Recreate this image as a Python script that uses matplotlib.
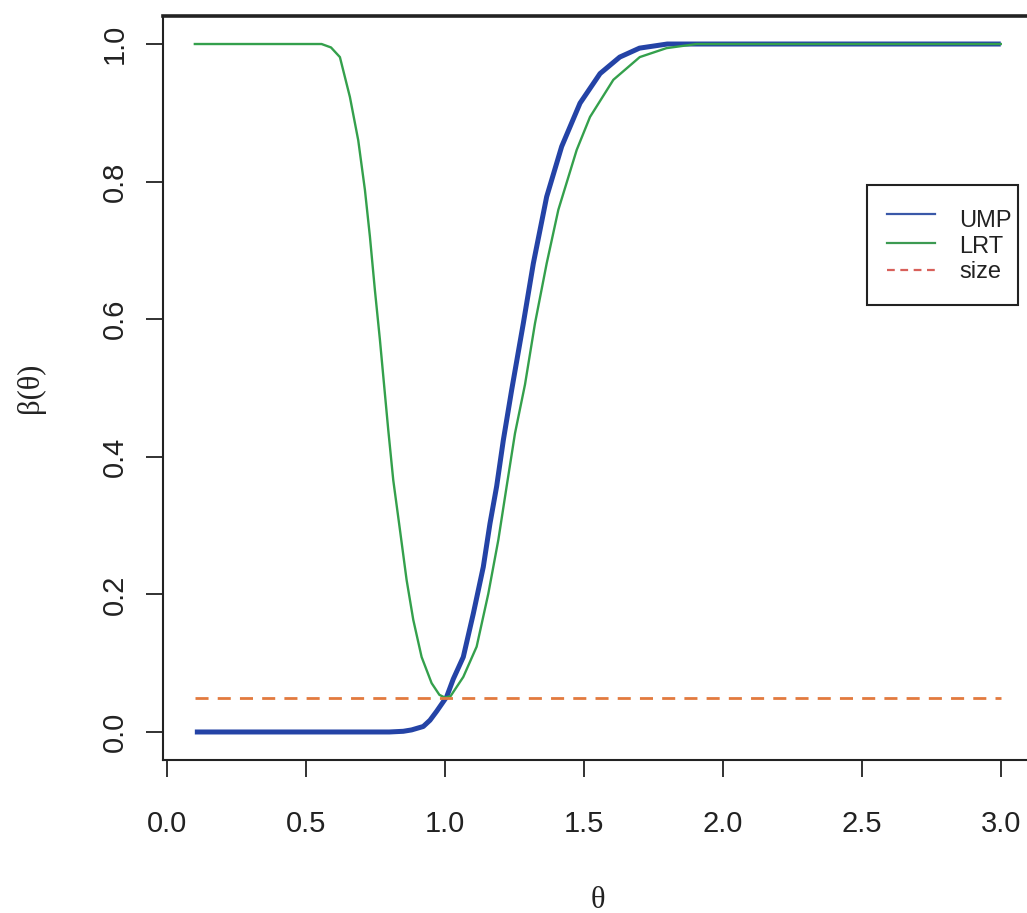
import matplotlib
matplotlib.use("Agg")
import matplotlib.pyplot as plt
from matplotlib.lines import Line2D
from matplotlib.patches import Rectangle

# ---- data ----
ump_theta = [0.10, 0.30, 0.50, 0.70, 0.80, 0.85, 0.88, 0.922, 0.946, 0.97, 1.006,
             1.03, 1.066, 1.102, 1.138, 1.162, 1.186, 1.21, 1.24, 1.282, 1.318,
             1.366, 1.42, 1.486, 1.558, 1.629, 1.70, 1.80, 2.00, 2.50, 3.00]
ump_beta = [0.0, 0.0, 0.0, 0.0, 0.0, 0.001, 0.003, 0.008, 0.017, 0.030, 0.051,
            0.077, 0.109, 0.172, 0.240, 0.303, 0.357, 0.424, 0.497, 0.594, 0.681,
            0.778, 0.851, 0.914, 0.957, 0.981, 0.994, 1.0, 1.0, 1.0, 1.0]

lrt_theta = [0.10, 0.30, 0.50, 0.556, 0.59, 0.622, 0.658, 0.688, 0.712, 0.730,
             0.748, 0.766, 0.782, 0.796, 0.814, 0.838, 0.862, 0.886, 0.916, 0.952,
             0.98, 1.00, 1.02, 1.066, 1.114, 1.156, 1.192, 1.222, 1.252, 1.288,
             1.324, 1.366, 1.408, 1.474, 1.522, 1.606, 1.701, 1.797, 1.905, 2.50, 3.00]
lrt_beta = [1.0, 1.0, 1.0, 1.0, 0.995, 0.981, 0.923, 0.860, 0.788, 0.720,
            0.642, 0.570, 0.500, 0.439, 0.366, 0.294, 0.221, 0.163, 0.109, 0.071,
            0.054, 0.050, 0.052, 0.080, 0.124, 0.201, 0.279, 0.357, 0.434, 0.505,
            0.594, 0.681, 0.759, 0.846, 0.894, 0.948, 0.981, 0.994, 1.0, 1.0, 1.0]

size_theta = [0.10, 3.00]
size_beta = [0.05, 0.05]

legend_labels = ["UMP", "LRT", "size"]
x_ticks = [0.0, 0.5, 1.0, 1.5, 2.0, 2.5, 3.0]
y_ticks = [0.0, 0.2, 0.4, 0.6, 0.8, 1.0]

# ---- styles ----
W, H = 1027, 913
fig = plt.figure(figsize=(W / 100, H / 100), dpi=100)
fig.patch.set_facecolor("white")

left_px, right_px, top_px, bot_px = 162.6, 1033.0, 16.5, 759.5
ax = fig.add_axes([left_px / W, 1 - bot_px / H,
                   (right_px - left_px) / W, (bot_px - top_px) / H])

c_ump = "#2443a6"
c_lrt = "#34a04c"
c_size = "#e27a3e"

ax.plot(ump_theta, ump_beta, color=c_ump, lw=3.6, solid_capstyle="butt",
        solid_joinstyle="round", zorder=3)
ax.plot(lrt_theta, lrt_beta, color=c_lrt, lw=1.7, solid_joinstyle="round", zorder=4)
ax.plot(size_theta, size_beta, color=c_size, lw=2.0, ls=(0, (4.7, 3.3)), zorder=5)

ax.set_xlim(-0.016, 3.116)
ax.set_ylim(-0.04, 1.04)
ax.set_xticks(x_ticks)
ax.set_yticks(y_ticks)
ax.set_xticklabels([f"{v:.1f}" for v in x_ticks])
ax.set_yticklabels([f"{v:.1f}" for v in y_ticks])

sans = ["Liberation Sans", "DejaVu Sans"]
serif = ["Liberation Serif", "DejaVu Serif"]
tick_col = "#222222"
ax.tick_params(axis="both", direction="out", length=12.5, width=1.3,
               colors=tick_col, labelsize=21)
ax.tick_params(axis="x", pad=24)
ax.tick_params(axis="y", pad=12, labelrotation=90)
for lab in ax.get_xticklabels() + ax.get_yticklabels():
    lab.set_fontfamily(sans)
for lab in ax.get_yticklabels():
    lab.set_va("center")

for s in ax.spines.values():
    s.set_color("#222222")
    s.set_linewidth(1.5)
ax.spines["top"].set_linewidth(2.6)

ax.set_xlabel("θ", fontsize=22, family=serif, color=tick_col)
ax.xaxis.set_label_coords(0.5, (bot_px - 886) / (bot_px - top_px))
ax.set_ylabel("β(θ)", fontsize=22, family=serif, color=tick_col, va="center")
ax.yaxis.set_label_coords((30 - left_px) / (right_px - left_px), 0.5)


# ---- legend (drawn in figure pixel coordinates) ----
def fx(x):
    return x / W


def fy(y):
    return 1 - y / H


fig.add_artist(Rectangle((fx(867), fy(305)), fx(1018) - fx(867), fy(185) - fy(305),
                         transform=fig.transFigure, fill=False,
                         edgecolor="#222222", lw=1.5, zorder=10))
leg_cols = ["#3a58a8", "#3c9a52", "#d8605a"]
leg_ls = ["-", "-", (0, (3.5, 2.5))]
leg_line_y = [214, 243, 270]
leg_text_y = [221, 247, 272]
for lab, col, ls, ly, ty in zip(legend_labels, leg_cols, leg_ls, leg_line_y, leg_text_y):
    fig.add_artist(Line2D([fx(887), fx(935)], [fy(ly), fy(ly)], transform=fig.transFigure,
                          color=col, lw=1.6, ls=ls, zorder=11))
    fig.text(fx(959), fy(ty), lab, fontsize=17, family=sans, color=tick_col,
             ha="left", va="center", zorder=11)

fig.savefig("out.png", dpi=100)
